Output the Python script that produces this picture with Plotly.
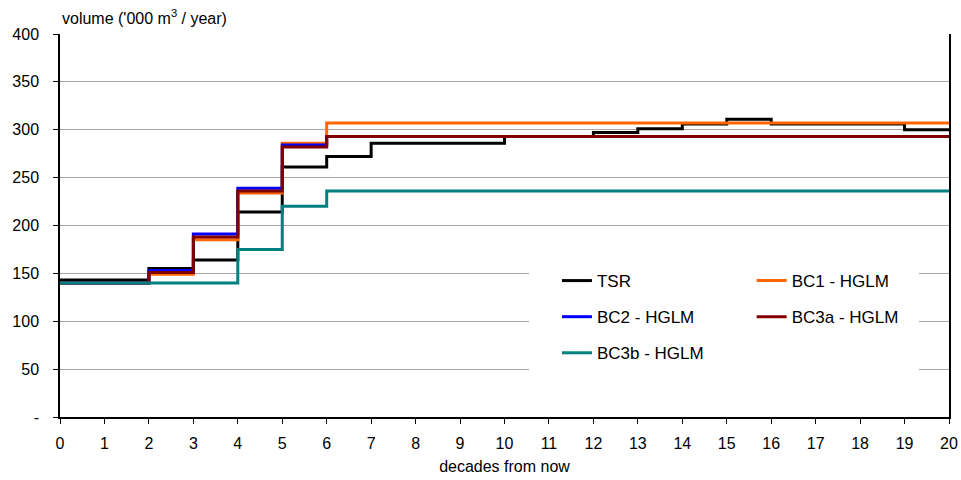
import plotly.graph_objects as go

# decades (interval starts); each value holds for [d, d+1)
decades = list(range(0, 20))
x_end = 20

series_names = ["TSR", "BC1 - HGLM", "BC2 - HGLM", "BC3a - HGLM", "BC3b - HGLM"]
tsr = [143, 143, 155, 164, 214, 261, 272, 286, 286, 286, 293, 293, 297, 301, 306, 311, 306, 306, 306, 300]
bc1 = [140, 140, 149, 185, 234, 286, 307, 307, 307, 307, 307, 307, 307, 307, 307, 307, 307, 307, 307, 307]
bc2 = [140, 140, 153, 191, 239, 284, 293, 293, 293, 293, 293, 293, 293, 293, 293, 293, 293, 293, 293, 293]
bc3a = [140, 140, 151, 188, 236, 282, 293, 293, 293, 293, 293, 293, 293, 293, 293, 293, 293, 293, 293, 293]
bc3b = [140, 140, 140, 140, 175, 220, 236, 236, 236, 236, 236, 236, 236, 236, 236, 236, 236, 236, 236, 236]

y_tickvals = [0, 50, 100, 150, 200, 250, 300, 350, 400]
y_ticktext = ["-", "50", "100", "150", "200", "250", "300", "350", "400"]
x_tickvals = list(range(0, 21))

colors = ["#000000", "#FF6600", "#0000FF", "#800000", "#008080"]
legend_ids = ["legend", "legend2", "legend", "legend2", "legend"]
all_values = [tsr, bc1, bc2, bc3a, bc3b]

FONT = "Arial, 'Liberation Sans', sans-serif"

fig = go.Figure()
for name, vals, col, lg in zip(series_names, all_values, colors, legend_ids):
    xs = decades + [x_end]
    ys = vals + [vals[-1]]
    fig.add_trace(go.Scatter(
        x=xs, y=ys, mode="lines", name=name,
        line=dict(color=col, width=3, shape="hv"),
        legend=lg, legendgroup=name,
    ))

fig.update_layout(
    width=961, height=480,
    margin=dict(l=60, r=12, t=34, b=63, autoexpand=False),
    paper_bgcolor="white", plot_bgcolor="white",
    font=dict(family=FONT, size=16, color="black"),
    legend=dict(x=0.559, y=0.402, xanchor="left", yanchor="top",
                bgcolor="rgba(0,0,0,0)", font=dict(size=17),
                tracegroupgap=11, traceorder="grouped"),
    legend2=dict(x=0.778, y=0.402, xanchor="left", yanchor="top",
                 bgcolor="rgba(0,0,0,0)", font=dict(size=17),
                 tracegroupgap=11, traceorder="grouped"),
    shapes=[dict(type="rect", xref="paper", yref="paper",
                 x0=0.5276, x1=0.9663, y0=0.097, y1=0.423,
                 fillcolor="white", line=dict(width=0), layer="above")],
    annotations=[dict(text="volume ('000 m<sup>3</sup> / year)",
                      xref="paper", yref="paper", x=0, y=1,
                      xanchor="left", yanchor="bottom", showarrow=False,
                      font=dict(size=16), xshift=0, yshift=5)],
)

fig.update_xaxes(
    range=[0, 20], tickvals=x_tickvals, ticktext=[str(v) for v in x_tickvals],
    showgrid=False, zeroline=False, automargin=False,
    showline=True, linecolor="black", linewidth=2,
    ticks="outside", ticklen=5, tickcolor="black", tickwidth=1,
    title=dict(text="decades from now", standoff=10, font=dict(size=16)),
    ticklabelstandoff=6,
)
fig.update_yaxes(
    range=[0, 400], tickvals=y_tickvals, ticktext=y_ticktext,
    showgrid=True, gridcolor="#a6a6a6", gridwidth=1, zeroline=False,
    automargin=False,
    showline=True, linecolor="black", linewidth=1.5, mirror=True,
    ticks="outside", ticklen=5, tickcolor="black", tickwidth=1,
    ticklabelstandoff=11,
)

# remove the default page margin so the 961x480 figure fills the window exactly
fig.write_html(
    "out.html",
    config={"displayModeBar": False},
    post_script="document.body.style.margin='0';document.body.style.overflow='hidden';",
)
